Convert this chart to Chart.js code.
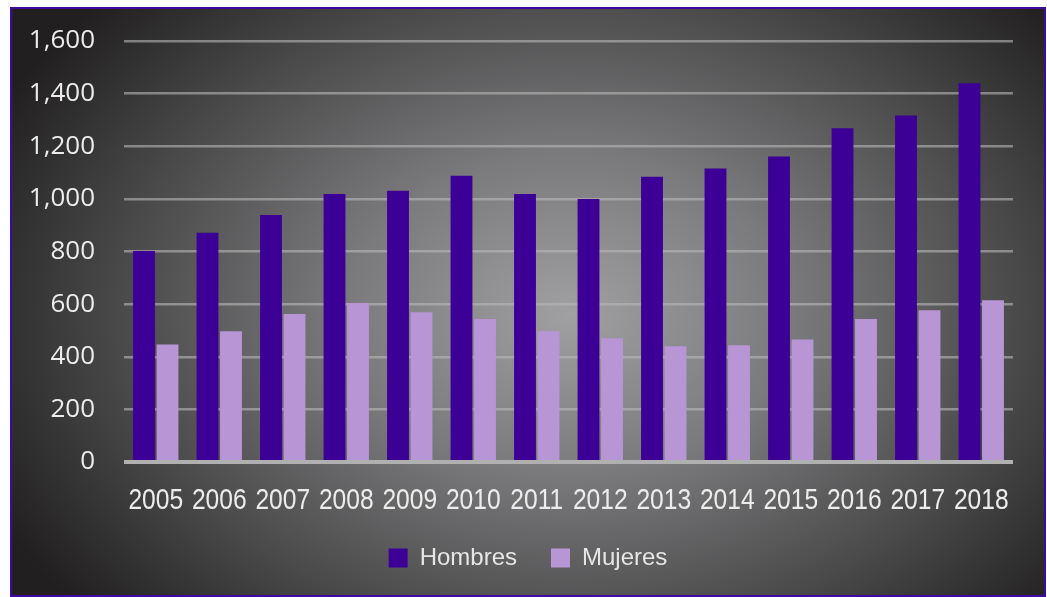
<!DOCTYPE html>
<html>
<head>
<meta charset="utf-8">
<script src="https://cdn.jsdelivr.net/npm/chart.js@4.4.1/dist/chart.umd.min.js"></script>
<style>
  html, body { margin: 0; padding: 0; background: #ffffff; }
  #frame {
    position: absolute; left: 10px; top: 7px; width: 1036px; height: 590px;
    box-sizing: border-box; border: 2px solid #3f0aa0;
    background: radial-gradient(ellipse 62% 78% at 54% 52%, #a0a0a2 0%, #7a7a7c 35%, #4a4a4b 70%, #211f20 100%);
  }
  #wrap { position: absolute; left: 0; top: 0; width: 1032px; height: 586px; }
</style>
</head>
<body>
<div id="frame"><div id="wrap"><canvas id="c"></canvas></div></div>
<script>
const categories = ["2005","2006","2007","2008","2009","2010","2011","2012","2013","2014","2015","2016","2017","2018"];
const hombres = [802, 871, 939, 1019, 1031, 1088, 1019, 1000, 1084, 1115, 1161, 1268, 1317, 1439];
const mujeres = [447, 497, 562, 604, 569, 543, 497, 470, 440, 444, 466, 543, 577, 615];
const seriesNames = ["Hombres", "Mujeres"];
const yTicks = [0, 200, 400, 600, 800, 1000, 1200, 1400, 1600];

// Draws the category labels at the x scale's tick positions, slightly condensed
const condensedXLabels = {
  id: 'condensedXLabels',
  afterDraw(chart) {
    const { ctx, chartArea } = chart;
    const xs = chart.scales.x;
    ctx.save();
    ctx.font = '30px "Liberation Sans", Arial, sans-serif';
    ctx.fillStyle = '#ececec';
    ctx.textAlign = 'center';
    ctx.textBaseline = 'alphabetic';
    const y = chartArea.bottom + 47;
    xs.ticks.forEach((t, i) => {
      const px = xs.getPixelForTick(i);
      ctx.save();
      ctx.translate(px, y);
      ctx.scale(0.82, 1);
      ctx.fillText(xs.getLabelForValue(t.value), 0, 0);
      ctx.restore();
    });
    ctx.restore();
  }
};

new Chart(document.getElementById('c'), {
  type: 'bar',
  data: {
    labels: categories,
    datasets: [
      { label: seriesNames[0], data: hombres, backgroundColor: '#3d0096', borderWidth: 0,
        categoryPercentage: 0.74, barPercentage: 0.93 },
      { label: seriesNames[1], data: mujeres, backgroundColor: '#b896d6', borderWidth: 0,
        categoryPercentage: 0.74, barPercentage: 0.93 }
    ]
  },
  plugins: [condensedXLabels],
  options: {
    responsive: true,
    maintainAspectRatio: false,
    animation: false,
    layout: { padding: { left: 0, right: 0, top: 32, bottom: 15 } },
    plugins: {
      tooltip: { enabled: false },
      legend: {
        position: 'bottom',
        labels: {
          color: '#e6e6e6',
          font: { family: '"Liberation Sans", Arial, sans-serif', size: 24 },
          boxWidth: 19, boxHeight: 19, padding: 34
        }
      }
    },
    scales: {
      x: {
        afterFit: (axis) => { axis.height = 50; },
        grid: { display: false, drawTicks: false },
        border: { display: false },
        ticks: { display: false, autoSkip: false }
      },
      y: {
        min: 0, max: 1600,
        afterBuildTicks: (axis) => { axis.ticks = yTicks.map(v => ({ value: v })); },
        afterFit: (axis) => { axis.width = 112; axis.paddingTop = 0; axis.paddingBottom = 0; },
        grid: {
          drawTicks: false,
          color: (ctx) => ctx.tick && ctx.tick.value === 0 ? '#b0b0b0' : 'rgba(185,185,185,0.6)',
          lineWidth: (ctx) => ctx.tick && ctx.tick.value === 0 ? 4 : 2.5
        },
        border: { display: false },
        ticks: {
          color: '#ececec', padding: 29,
          font: { family: '"Open Sans", sans-serif', size: 26 },
          callback: (v) => v.toLocaleString('en-US')
        }
      },
      yRight: {
        position: 'right', min: 0, max: 1600,
        afterFit: (axis) => { axis.width = 31; axis.paddingTop = 0; axis.paddingBottom = 0; },
        grid: { display: false, drawTicks: false },
        border: { display: false },
        ticks: { display: false }
      }
    }
  }
});
</script>
</body>
</html>
